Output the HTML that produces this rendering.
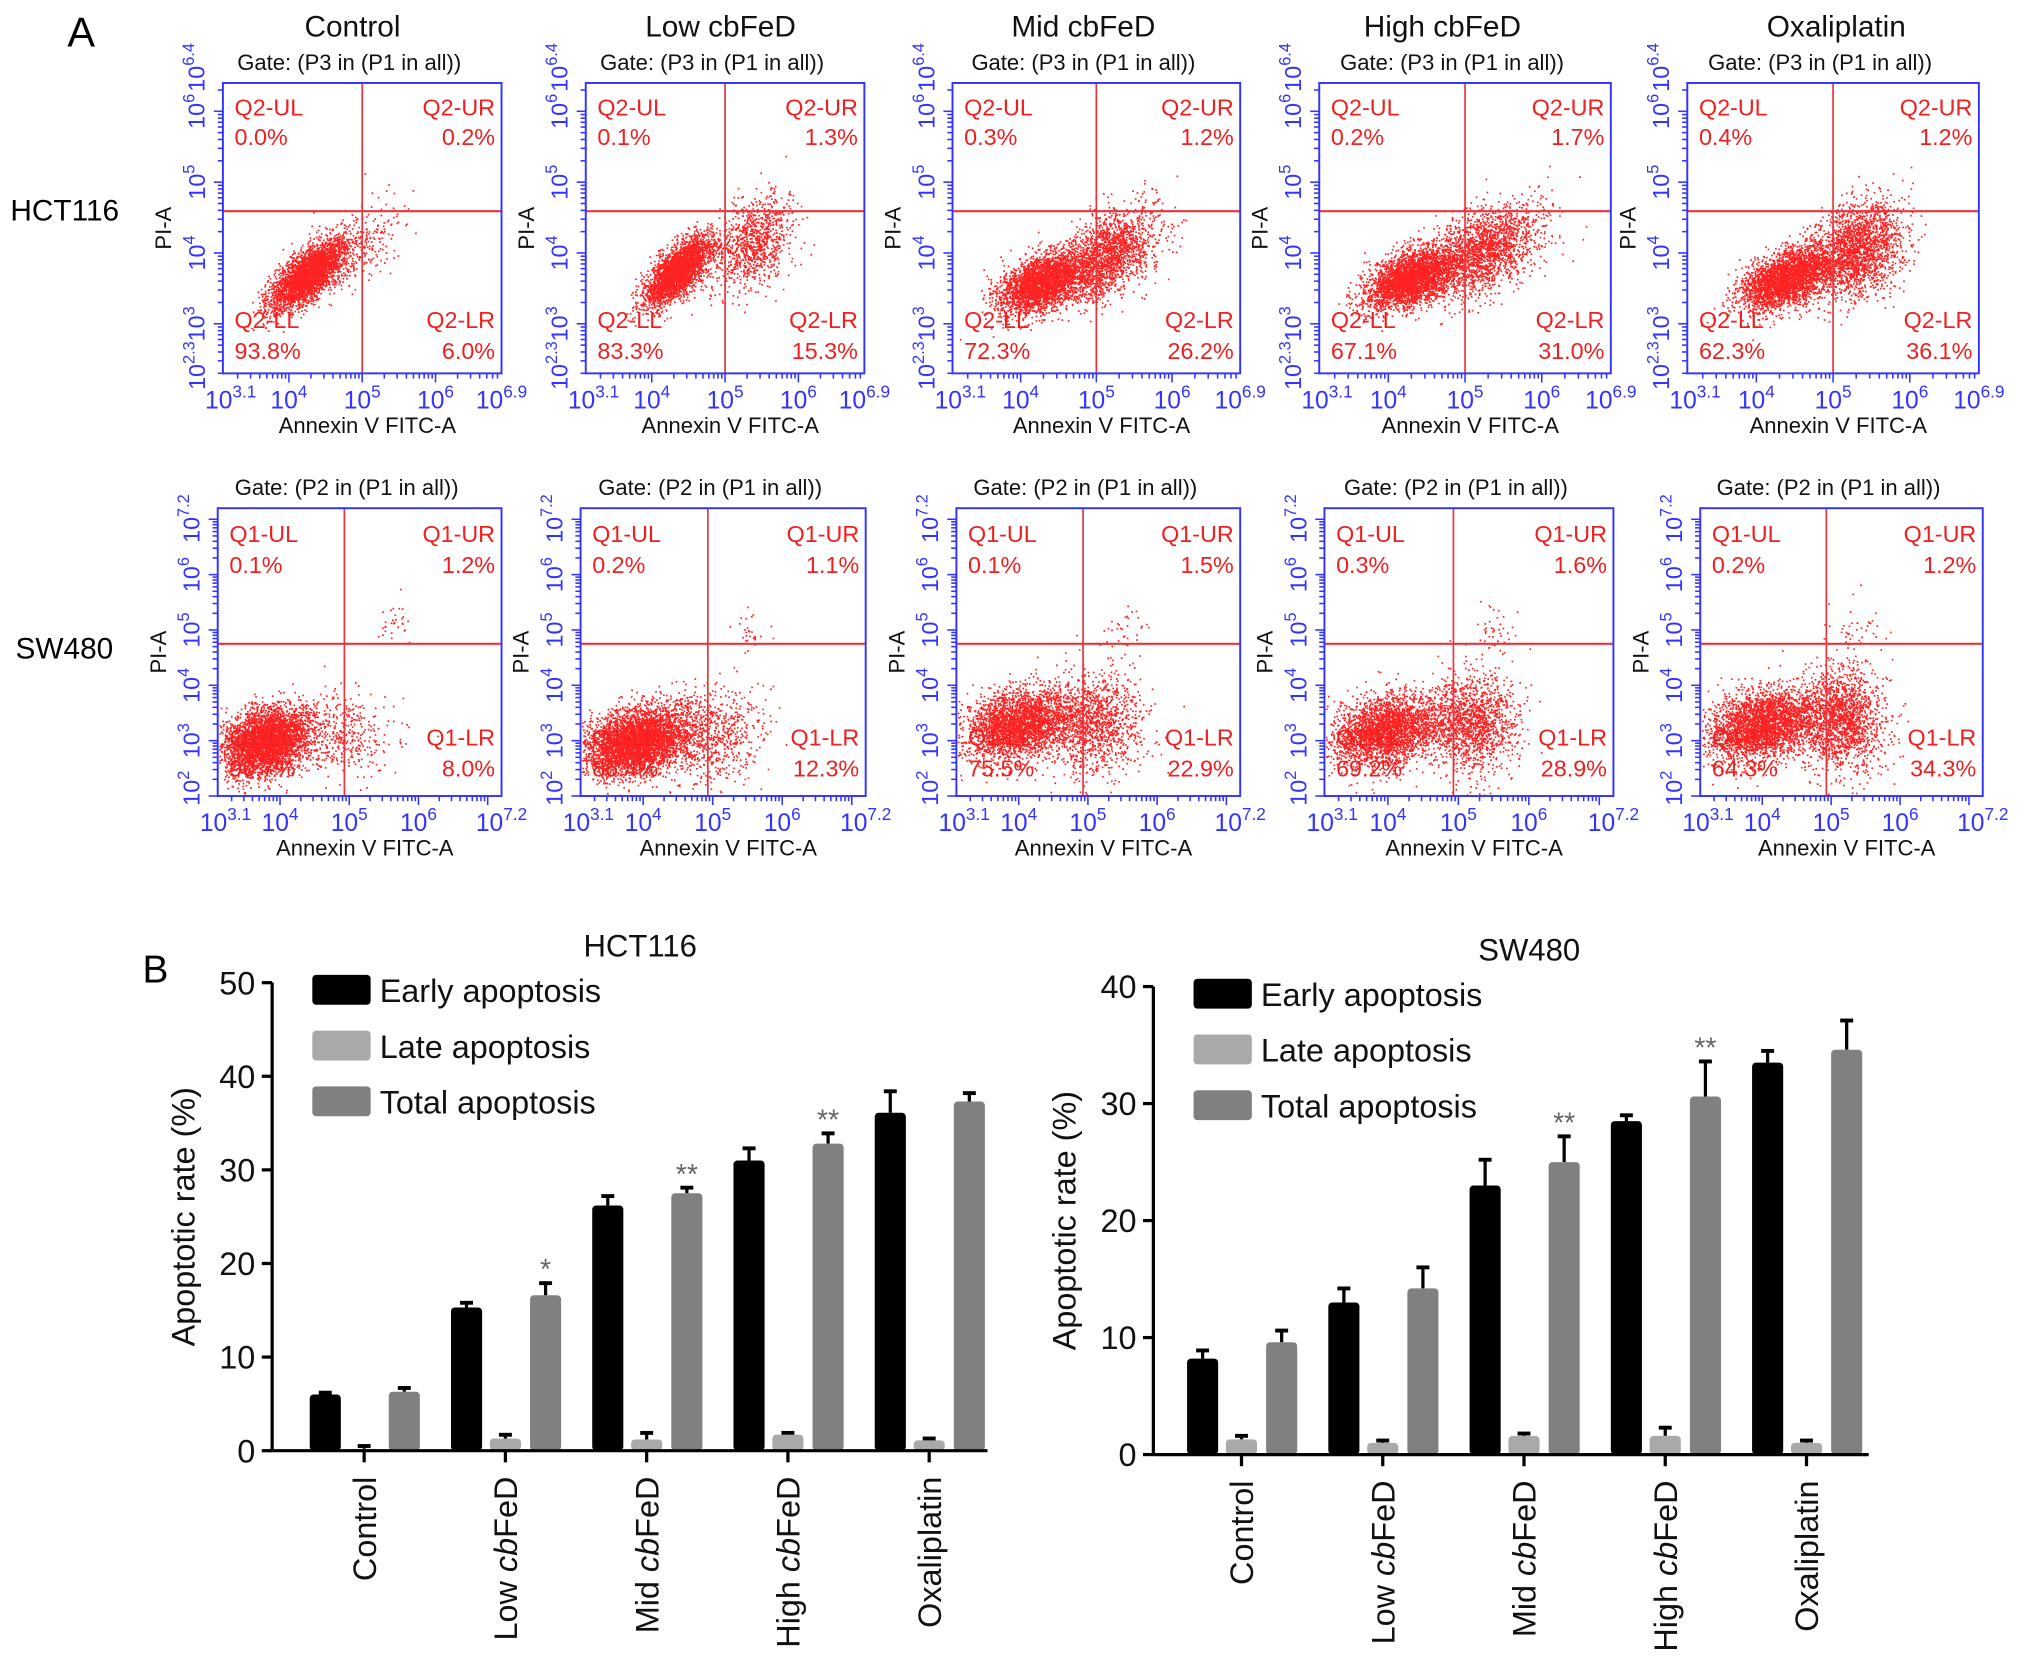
<!DOCTYPE html>
<html><head><meta charset="utf-8"><style>
html,body{margin:0;padding:0;background:#fff}
svg{display:block}
text{font-family:"Liberation Sans",Arial,sans-serif}
</style></head><body>
<svg id="fig" width="2032" height="1662" viewBox="0 0 1568 1282" preserveAspectRatio="none" xmlns="http://www.w3.org/2000/svg">
<rect width="1568" height="1282" fill="#fff"/>
<text x="52" y="36" font-size="32">A</text>
<text x="110" y="758" font-size="30">B</text>
<text x="8" y="170" font-size="23">HCT116</text>
<text x="12" y="508" font-size="23">SW480</text>
<g id="flow"></g>
<g id="bars"></g>
</svg>
<script>
// ---------- Flow cytometry data ----------
const conditions = ["Control","Low cbFeD","Mid cbFeD","High cbFeD","Oxaliplatin"];
const hctUL = ["0.0%","0.1%","0.3%","0.2%","0.4%"];
const hctUR = ["0.2%","1.3%","1.2%","1.7%","1.2%"];
const hctLL = ["93.8%","83.3%","72.3%","67.1%","62.3%"];
const hctLR = ["6.0%","15.3%","26.2%","31.0%","36.1%"];
const swUL = ["0.1%","0.2%","0.1%","0.3%","0.2%"];
const swUR = ["1.2%","1.1%","1.5%","1.6%","1.2%"];
const swLL = ["90.7%","86.4%","75.5%","69.2%","64.3%"];
const swLR = ["8.0%","12.3%","22.9%","28.9%","34.3%"];
// clusters: [count, meanLogX, meanLogY, sdX, sdY, corr]
const hctClusters = [
 [[3400,4.25,3.7,0.25,0.24,0.7],[320,4.9,4.1,0.35,0.3,0.5]],
 [[3000,4.35,3.75,0.22,0.24,0.7],[1000,5.35,4.15,0.28,0.32,0.4]],
 [[3200,4.3,3.6,0.3,0.22,0.5],[1700,5.2,4.0,0.3,0.32,0.4]],
 [[3200,4.3,3.65,0.3,0.22,0.5],[1900,5.25,4.05,0.35,0.32,0.4]],
 [[3000,4.4,3.65,0.3,0.22,0.5],[2100,5.3,4.05,0.3,0.34,0.3]]
];
const swClusters = [
 [[4000,3.8,3.0,0.32,0.3,0.3],[380,4.9,3.1,0.35,0.4,0],[30,5.65,5.2,0.15,0.2,0]],
 [[4200,3.9,3.0,0.37,0.3,0.3],[700,5.0,3.1,0.35,0.4,0],[30,5.55,5.0,0.15,0.2,0]],
 [[2900,4.0,3.3,0.4,0.32,0.3],[1200,5.1,3.3,0.35,0.45,0],[35,5.5,5.0,0.15,0.25,0]],
 [[2900,4.0,3.2,0.4,0.32,0.3],[1400,5.2,3.3,0.3,0.45,0],[40,5.5,5.0,0.15,0.25,0]],
 [[3000,4.0,3.3,0.4,0.32,0.3],[1700,5.15,3.4,0.3,0.45,0],[40,5.4,5.0,0.2,0.25,0]]
];
const hctXTicks = [3.1,4,5,6,6.9];
const hctYTicks = [2.3,3,4,5,6,6.4];
const swXTicks = [3.1,4,5,6,7.2];
const swYTicks = [2,3,4,5,6,7.2];

const NS="http://www.w3.org/2000/svg";
function mk(tag,attrs,parent){const e=document.createElementNS(NS,tag);for(const k in attrs)e.setAttribute(k,attrs[k]);if(parent)parent.appendChild(e);return e;}
function rng(seed){return function(){seed|=0;seed=seed+0x6D2B79F5|0;let t=Math.imul(seed^seed>>>15,1|seed);t=t+Math.imul(t^t>>>7,61|t)^t;return((t^t>>>14)>>>0)/4294967296;}}
function sup(parent,x,y,val,fs,anchor,rot){
  const t=mk('text',{x:x,y:y,'font-size':fs,fill:'#3333ff','text-anchor':anchor},parent);
  if(rot) t.setAttribute('transform',`rotate(-90 ${x} ${y})`);
  t.textContent='10';
  const s=mk('tspan',{dy:-fs*0.45,'font-size':fs*0.7},t);
  s.textContent=String(val);
  return t;
}
const flowG=document.getElementById('flow');
function flowPlot(i,row,L,T,R,B,xr,yr,xq,yq,xt,yt,labs,cl,gate,prefix){
  const g=mk('g',{},flowG);
  
  
  const X=v=>L+(v-xr[0])/(xr[1]-xr[0])*(R-L);
  const Y=v=>B-(v-yr[0])/(yr[1]-yr[0])*(B-T);
  const gt=mk('text',{x:(L+R)/2-10,y:T-10,'font-size':17,'text-anchor':'middle',fill:'#111'},g);
  
  gt.textContent=gate;
  const r=rng(1000+i*17+(row==='sw'?500:0));
  let d='';
  cl.forEach(c=>{
    for(let k=0;k<c[0];k++){
      const u1=r()||1e-9,u2=r();
      const z1=Math.sqrt(-2*Math.log(u1))*Math.cos(2*Math.PI*u2);
      const z2=Math.sqrt(-2*Math.log(u1))*Math.sin(2*Math.PI*u2);
      const lx=c[1]+c[3]*z1, ly=c[2]+c[4]*(c[5]*z1+Math.sqrt(1-c[5]*c[5])*z2);
      const px=X(lx), py=Y(ly);
      if(px<L+1||px>R-1||py<T+1||py>B-1)continue;
      d+=`M${px.toFixed(1)} ${py.toFixed(1)}h1.3v1.3h-1.3z`;
    }
  });
  const dots=mk('path',{d:d,fill:'#ff0a0a','fill-opacity':0.9},g);
  
  mk('line',{x1:X(xq),x2:X(xq),y1:T,y2:B,stroke:'#e8343c','stroke-width':1.3},g);
  mk('line',{x1:L,x2:R,y1:Y(yq),y2:Y(yq),stroke:'#e8343c','stroke-width':1.6},g);
  const box=mk('rect',{x:L,y:T,width:R-L,height:B-T,fill:'none',stroke:'#3333ff','stroke-width':1.5},g);
  
  for(let dec=Math.floor(xr[0]);dec<=Math.ceil(xr[1]);dec++){
    for(let m=1;m<10;m++){const v=dec+Math.log10(m);if(v<xr[0]||v>xr[1])continue;
      mk('line',{x1:X(v),x2:X(v),y1:B,y2:B+(m===1?7:4),stroke:'#3333ff','stroke-width':1.2},g);}
  }
  for(let dec=Math.floor(yr[0]);dec<=Math.ceil(yr[1]);dec++){
    for(let m=1;m<10;m++){const v=dec+Math.log10(m);if(v<yr[0]||v>yr[1])continue;
      mk('line',{x1:L,x2:L-(m===1?7:4),y1:Y(v),y2:Y(v),stroke:'#3333ff','stroke-width':1.2},g);}
  }
  xt.forEach((v,k)=>{const t=sup(g,X(v)+(k===0?6:0),B+27,v,19,'middle',false);});
  yt.forEach((v,k)=>{const yy=Y(v)+(k===0?-6:(k===yt.length-1?(row==='hct'?-12:8):0));const t=sup(g,L-14,yy,v,18,'middle',true);});
  const xl=mk('text',{x:(L+R)/2+4,y:B+46,'font-size':17,'text-anchor':'middle',fill:'#111'},g);
  
  xl.textContent='Annexin V FITC-A';
  const yl=mk('text',{x:L-40,y:(T+B)/2,'font-size':17,'text-anchor':'middle',fill:'#111',transform:`rotate(-90 ${L-40} ${(T+B)/2})`},g);
  
  yl.textContent='PI-A';
  const qs=[['UL',L+9,'start',0],['UR',R-5,'end',0],['LL',L+9,'start',1],['LR',R-5,'end',1]];
  const ys=row==='hct'?[[T+25,T+48],[B-35,B-11]]:[[T+26,T+50],[B-39,B-15]];
  qs.forEach((q,k)=>{
    const a=mk('text',{x:q[1],y:ys[q[3]][0],'font-size':18,'text-anchor':q[2],fill:'#ee2020'},g);
    
    a.textContent=prefix+'-'+q[0];
    const b=mk('text',{x:q[1],y:ys[q[3]][1],'font-size':18,'text-anchor':q[2],fill:'#ee2020'},g);
    
    b.textContent=labs[k];
  });
}
const hctL=[172,452,735,1018,1302], hctR=[387,667,957,1243,1527];
const swL=[168,448,738,1022,1312], swR=[387,668,957,1245,1530];
const titleX=[272,556,836,1113,1417];
conditions.forEach((c,i)=>{
  const t=mk('text',{x:titleX[i],y:28,'font-size':23,'text-anchor':'middle',fill:'#111'},flowG);
  
  t.textContent=c;
  flowPlot(i,'hct',hctL[i],64,hctR[i],288,[3.1,6.9],[2.3,6.4],5,4.59,hctXTicks,hctYTicks,[hctUL[i],hctUR[i],hctLL[i],hctLR[i]],hctClusters[i],'Gate: (P3 in (P1 in all))','Q2');
  flowPlot(i,'sw',swL[i],392,swR[i],614,[3.1,7.2],[2,7.2],4.93,4.75,swXTicks,swYTicks,[swUL[i],swUR[i],swLL[i],swLR[i]],swClusters[i],'Gate: (P2 in (P1 in all))','Q1');
});

// ---------- Bar chart data ----------
const categories = ["Control","Low cbFeD","Mid cbFeD","High cbFeD","Oxaliplatin"];
const hctEarly = [6.0,15.3,26.2,31.0,36.1];
const hctEarlyErr = [0.2,0.5,1.0,1.3,2.3];
const hctLate = [0.2,1.3,1.2,1.7,1.1];
const hctLateErr = [0.3,0.4,0.7,0.2,0.2];
const hctTotal = [6.3,16.6,27.5,32.8,37.3];
const hctTotalErr = [0.4,1.3,0.6,1.1,0.9];
const hctStars = ["","*","**","**",""];
const hctTicks = [0,10,20,30,40,50];
const swEarly = [8.2,13.0,23.0,28.5,33.5];
const swEarlyErr = [0.7,1.2,2.2,0.5,1.0];
const swLate = [1.3,1.0,1.6,1.6,1.0];
const swLateErr = [0.3,0.2,0.2,0.7,0.2];
const swTotal = [9.6,14.2,25.0,30.6,34.6];
const swTotalErr = [1.0,1.8,2.2,3.0,2.5];
const swStars = ["","","**","**",""];
const swTicks = [0,10,20,30,40];

const barsG=document.getElementById('bars');
function barChart(name,title,axL,axR,y0,yTop,ymax,ticks,series,errs,stars,titleX,firstOff){
  const g=mk('g',{},barsG);
  
  const Y=v=>y0-v/ymax*(y0-yTop);
  const step=109;
  const X=i=>axL+firstOff+step*i;
  const cols=['#000','#a9a9a9','#808080'], offs=[-30,0,31], bw=24;
  const tt=mk('text',{x:titleX,y:yTop-20,'font-size':24,'text-anchor':'middle',fill:'#111'},g);
  
  tt.textContent=title;
  ticks.forEach(v=>{
    mk('line',{x1:axL-8,x2:axL,y1:Y(v),y2:Y(v),stroke:'#000','stroke-width':2.5},g);
    const t=mk('text',{x:axL-13,y:Y(v)+9,'font-size':25,'text-anchor':'end',fill:'#111'},g);
    
    t.textContent=v;
  });
  const yt=mk('text',{x:axL-60,y:(y0+yTop)/2,'font-size':25,'text-anchor':'middle',fill:'#111',transform:`rotate(-90 ${axL-60} ${(y0+yTop)/2})`},g);
  
  yt.textContent='Apoptotic rate (%)';
  categories.forEach((c,i)=>{
    series.forEach((s,k)=>{
      const cx=X(i)+offs[k], top=Y(s[i]);
      const err=mk('line',{x1:cx,x2:cx,y1:top,y2:Y(s[i]+errs[k][i]),stroke:'#000','stroke-width':2.5},g);
      
      mk('line',{x1:cx-5,x2:cx+5,y1:Y(s[i]+errs[k][i]),y2:Y(s[i]+errs[k][i]),stroke:'#000','stroke-width':3},g);
      const b=mk('rect',{x:cx-bw/2,y:top,width:bw,height:y0-top,rx:3,fill:cols[k]},g);
      
      
    });
    if(stars[i]){
      const cx=X(i)+offs[2];
      const st=mk('text',{x:cx,y:Y(series[2][i]+errs[2][i])-3,'font-size':22,'text-anchor':'middle',fill:'#666'},g);
      
      st.textContent=stars[i];
    }
    mk('line',{x1:X(i),x2:X(i),y1:y0,y2:y0+9,stroke:'#000','stroke-width':2.5},g);
    const parts=c.split(' ');
    const lx=X(i)+9, ly=y0+20;
    const t=mk('text',{x:lx,y:ly,'font-size':25,'text-anchor':'end',fill:'#111',transform:`rotate(-90 ${lx} ${ly})`},g);
    
    if(parts.length>1){
      t.appendChild(document.createTextNode(parts[0]+' '));
      const it=mk('tspan',{'font-style':'italic'},t);it.textContent='cb';
      t.appendChild(document.createTextNode('FeD'));
    } else t.textContent=c;
  });
  mk('line',{x1:axL,x2:axL,y1:yTop,y2:y0,stroke:'#000','stroke-width':2.5},g);
  mk('line',{x1:axL,x2:axR,y1:y0,y2:y0,stroke:'#000','stroke-width':2.5},g);
  ['Early apoptosis','Late apoptosis','Total apoptosis'].forEach((l,k)=>{
    const ly=yTop+6+k*43;
    const sw=mk('rect',{x:axL+31,y:ly-12,width:45,height:23,rx:3,fill:cols[k]},g);
    
    const t=mk('text',{x:axL+83,y:ly+9,'font-size':25,fill:'#111'},g);
    
    t.textContent=l;
  });
}
barChart('hct116-bar-chart','HCT116',210,762,1119,758,50,hctTicks,[hctEarly,hctLate,hctTotal],[hctEarlyErr,hctLateErr,hctTotalErr],hctStars,494,71);
barChart('sw480-bar-chart','SW480',890,1442,1122,761,40,swTicks,[swEarly,swLate,swTotal],[swEarlyErr,swLateErr,swTotalErr],swStars,1180,68);
</script>
</body></html>
